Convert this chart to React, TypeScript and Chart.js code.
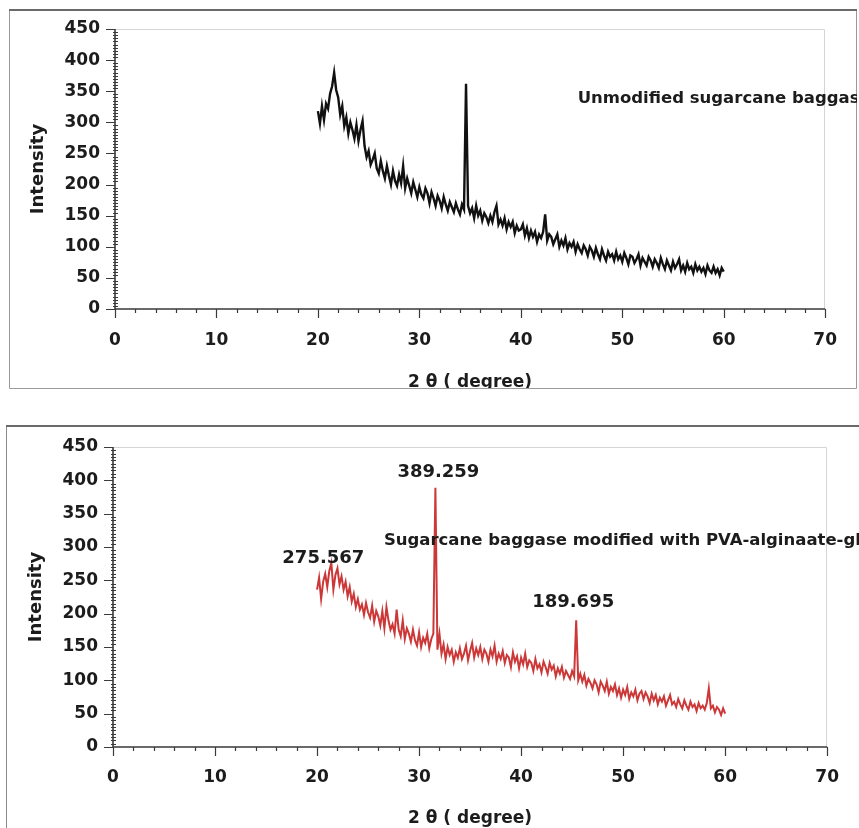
import { useEffect, useRef } from "react";
import { Chart, registerables } from "chart.js";

Chart.register(...registerables);

// ---------- data ----------
// 2θ sampling grid (degrees), 20.0 → 60.0 in 0.2° steps
const ANGLES: number[] = Array.from({ length: 201 }, (_, i) => Math.round((20 + i * 0.2) * 10) / 10);

// Unmodified sugarcane baggase intensity, one row per degree
const UNMODIFIED: number[] = [
  318, 298, 326, 304, 330, // 20
  322, 346, 358, 380, 352, // 21
  340, 312, 326, 294, 308, // 22
  282, 300, 288, 274, 296, // 23
  270, 288, 302, 262, 244, // 24
  254, 232, 240, 250, 226, // 25
  218, 238, 222, 210, 230, // 26
  214, 200, 222, 206, 198, // 27
  216, 202, 230, 194, 210, // 28
  198, 186, 204, 192, 180, // 29
  196, 184, 178, 194, 186, // 30
  170, 188, 178, 166, 182, // 31
  174, 162, 180, 168, 158, // 32
  172, 164, 156, 170, 160, // 33
  152, 168, 160, 362, 166, // 34
  154, 162, 146, 166, 150, // 35
  158, 142, 154, 148, 138, // 36
  150, 140, 156, 166, 136, // 37
  144, 134, 146, 128, 140, // 38
  132, 140, 122, 134, 126, // 39
  128, 136, 118, 130, 114, // 40
  126, 116, 124, 108, 120, // 41
  114, 124, 152, 110, 120, // 42
  116, 104, 112, 120, 100, // 43
  110, 102, 114, 96, 106, // 44
  100, 108, 92, 104, 96, // 45
  90, 102, 96, 86, 100, // 46
  94, 84, 98, 88, 80, // 47
  96, 86, 78, 92, 84, // 48
  88, 78, 92, 80, 86, // 49
  76, 90, 82, 72, 86, // 50
  84, 74, 80, 88, 70, // 51
  82, 76, 70, 84, 78, // 52
  68, 80, 74, 66, 82, // 53
  72, 64, 78, 70, 62, // 54
  76, 66, 72, 80, 62, // 55
  70, 60, 74, 64, 68, // 56
  58, 72, 62, 68, 60, // 57
  66, 56, 70, 62, 58, // 58
  68, 58, 64, 54, 66, // 59
  60, // 60
];

// Sugarcane baggase modified with PVA-alginate intensity
const MODIFIED: number[] = [
  236, 254, 222, 248, 260, // 20
  240, 264, 276, 236, 258, // 21
  268, 244, 256, 236, 248, // 22
  226, 240, 218, 230, 210, // 23
  222, 206, 214, 198, 216, // 24
  202, 194, 212, 188, 204, // 25
  196, 182, 204, 178, 210, // 26
  190, 176, 184, 170, 206, // 27
  176, 166, 190, 162, 178, // 28
  170, 158, 176, 160, 152, // 29
  172, 150, 164, 156, 170, // 30
  148, 162, 170, 389, 146, // 31
  170, 140, 154, 132, 150, // 32
  138, 146, 128, 142, 134, // 33
  148, 132, 140, 152, 130, // 34
  144, 156, 134, 148, 138, // 35
  150, 132, 146, 140, 128, // 36
  146, 136, 152, 128, 140, // 37
  132, 144, 126, 138, 134, // 38
  120, 142, 128, 136, 118, // 39
  134, 124, 140, 120, 130, // 40
  126, 114, 132, 118, 124, // 41
  112, 128, 120, 110, 126, // 42
  116, 122, 106, 118, 110, // 43
  120, 104, 114, 108, 102, // 44
  114, 106, 190, 100, 110, // 45
  98, 108, 92, 102, 96, // 46
  88, 100, 94, 82, 98, // 47
  92, 84, 98, 80, 90, // 48
  84, 94, 78, 88, 74, // 49
  86, 78, 90, 72, 82, // 50
  76, 86, 70, 80, 84, // 51
  72, 82, 76, 66, 80, // 52
  70, 78, 64, 74, 68, // 53
  76, 62, 70, 78, 64, // 54
  68, 60, 72, 64, 58, // 55
  70, 62, 56, 68, 60, // 56
  64, 54, 66, 58, 62, // 57
  56, 66, 88, 58, 62, // 58
  52, 60, 56, 48, 58, // 59
  50, // 60
];

const MODIFIED_PEAKS_X: number[] = [21.4, 31.6, 45.4];
const MODIFIED_PEAKS_Y: number[] = [275.567, 389.259, 189.695];

const X_MIN = 0, X_MAX = 70, X_STEP = 10, X_MINOR = 2;
const Y_MIN = 0, Y_MAX = 450, Y_STEP = 50, Y_MINOR = 5;

const X_TITLE = "2 θ ( degree)";
const Y_TITLE = "Intensity";
const TOP_NOTE = "Unmodified sugarcane baggas";
const BOTTOM_NOTE = "Sugarcane baggase modified with PVA-alginaate-gl";

// ---------- styling ----------
const FONT = '"DejaVu Sans", "Open Sans", sans-serif';
const TEXT = "#1c1c1c";

type Spec = {
  values: number[];
  color: string;
  lineWidth: number;
  padTop: number;
  padRight: number;
  yWidth: number;
  xHeight: number;
  xTickPad: number;
  xTitlePad: number;
  yTitlePad: number;
  note: { text: string; x: number; y: number; clipRight: number };
  peaks: { x: number; y: number; dx: number; dy: number }[];
  frame: (ctx: CanvasRenderingContext2D, w: number, h: number) => void;
};

function decorPlugin(spec: Spec) {
  return {
    id: "decor",
    beforeDraw(chart: any) {
      const { ctx, width, height } = chart;
      ctx.save();
      ctx.fillStyle = "#ffffff";
      ctx.fillRect(0, 0, width, height);
      ctx.restore();
    },
    afterDraw(chart: any) {
      const { ctx, chartArea: a, width, height } = chart;
      const xs = chart.scales.x;
      const ys = chart.scales.y;
      ctx.save();

      spec.frame(ctx, width, height);

      // plot-area border (light)
      ctx.strokeStyle = "#d4d4d4";
      ctx.lineWidth = 1;
      ctx.beginPath();
      ctx.moveTo(a.left, Math.round(a.top) + 0.5);
      ctx.lineTo(Math.round(a.right) - 0.5, Math.round(a.top) + 0.5);
      ctx.lineTo(Math.round(a.right) - 0.5, a.bottom);
      ctx.stroke();

      // axes
      const x0 = Math.round(a.left);
      const y0 = Math.round(a.bottom);
      ctx.strokeStyle = "#3a3a3a";
      ctx.lineWidth = 1.6;
      ctx.beginPath();
      ctx.moveTo(x0, a.top);
      ctx.lineTo(x0, y0);
      ctx.lineTo(a.right, y0);
      ctx.stroke();

      // y ticks
      ctx.lineWidth = 1.2;
      ctx.beginPath();
      for (let v = Y_MIN; v <= Y_MAX; v += Y_MINOR) {
        const py = Math.round(ys.getPixelForValue(v)) + 0.5;
        if (v % Y_STEP === 0) {
          ctx.moveTo(x0 - 9, py);
          ctx.lineTo(x0, py);
        } else {
          ctx.moveTo(x0 - 2, py);
          ctx.lineTo(x0 + 3, py);
        }
      }
      ctx.stroke();

      // x ticks
      ctx.beginPath();
      for (let v = X_MIN; v <= X_MAX; v += X_MINOR) {
        const px = Math.round(xs.getPixelForValue(v)) + 0.5;
        const len = v % X_STEP === 0 ? 9 : 4;
        ctx.moveTo(px, y0);
        ctx.lineTo(px, y0 + len);
      }
      ctx.stroke();

      // note text
      ctx.save();
      ctx.beginPath();
      ctx.rect(0, 0, spec.note.clipRight, height);
      ctx.clip();
      ctx.fillStyle = TEXT;
      ctx.font = `bold 16.5px ${FONT}`;
      ctx.textAlign = "left";
      ctx.textBaseline = "middle";
      ctx.fillText(spec.note.text, xs.getPixelForValue(spec.note.x), ys.getPixelForValue(spec.note.y));
      ctx.restore();

      // peak labels
      ctx.fillStyle = TEXT;
      ctx.font = `bold 18px ${FONT}`;
      ctx.textAlign = "center";
      ctx.textBaseline = "middle";
      for (const p of spec.peaks) {
        ctx.fillText(p.y.toFixed(3), xs.getPixelForValue(p.x) + p.dx, ys.getPixelForValue(p.y) + p.dy);
      }

      ctx.restore();
    },
  };
}

function buildConfig(spec: Spec): any {
  const tickFont = { family: FONT, size: 17, weight: "bold" as const };
  return {
    type: "line",
    data: {
      datasets: [
        {
          data: ANGLES.map((x, i) => ({ x, y: spec.values[i] })),
          borderColor: spec.color,
          borderWidth: spec.lineWidth,
          pointRadius: 0,
          tension: 0,
          fill: false,
        },
      ],
    },
    options: {
      animation: false,
      responsive: false,
      devicePixelRatio: 1,
      events: [],
      layout: { padding: { left: 0, right: spec.padRight, top: spec.padTop, bottom: 0 } },
      plugins: { legend: { display: false }, tooltip: { enabled: false }, title: { display: false } },
      scales: {
        x: {
          type: "linear",
          min: X_MIN,
          max: X_MAX,
          ticks: { stepSize: X_STEP, color: TEXT, font: tickFont, padding: spec.xTickPad, maxRotation: 0, autoSkip: false },
          grid: { display: false, drawTicks: false },
          border: { display: false },
          title: {
            display: true,
            text: X_TITLE,
            color: TEXT,
            font: { family: FONT, size: 17, weight: "bold", lineHeight: 1 },
            padding: { top: 0, bottom: spec.xTitlePad },
          },
          afterFit: (s: any) => {
            s.height = spec.xHeight;
          },
        },
        y: {
          type: "linear",
          min: Y_MIN,
          max: Y_MAX,
          ticks: { stepSize: Y_STEP, color: TEXT, font: tickFont, padding: 15 },
          grid: { display: false, drawTicks: false },
          border: { display: false },
          title: {
            display: true,
            text: Y_TITLE,
            color: TEXT,
            font: { family: FONT, size: 18, weight: "bold", lineHeight: 1 },
            padding: { top: spec.yTitlePad, bottom: 0 },
          },
          afterFit: (s: any) => {
            s.width = spec.yWidth;
          },
        },
      },
    },
    plugins: [decorPlugin(spec)],
  };
}

const TOP_W = 858, TOP_H = 389;
const BOT_W = 859, BOT_H = 408, BOT_TOP = 420;

const TOP_SPEC: Spec = {
  values: UNMODIFIED,
  color: "#111111",
  lineWidth: 2.4,
  padTop: 29,
  padRight: TOP_W - 827,
  yWidth: 115,
  xHeight: TOP_H - 309,
  xTickPad: 21,
  xTitlePad: -2,
  yTitlePad: 29,
  note: { text: TOP_NOTE, x: 45.6, y: 338, clipRight: 857 },
  peaks: [],
  frame: (ctx, w, h) => {
    ctx.strokeStyle = "#9a9a9a";
    ctx.lineWidth = 1;
    ctx.beginPath();
    ctx.moveTo(9.5, 10);
    ctx.lineTo(9.5, h - 0.5);
    ctx.lineTo(w - 1.5, h - 0.5);
    ctx.lineTo(w - 1.5, 10);
    ctx.stroke();
    ctx.strokeStyle = "#6a6a6a";
    ctx.lineWidth = 2;
    ctx.beginPath();
    ctx.moveTo(9, 10);
    ctx.lineTo(w - 1, 10);
    ctx.stroke();
  },
};

const BOT_SPEC: Spec = {
  values: MODIFIED,
  color: "#cc3838",
  lineWidth: 2,
  padTop: 447 - BOT_TOP,
  padRight: BOT_W - 830,
  yWidth: 113,
  xHeight: BOT_H - (747 - BOT_TOP),
  xTickPad: 20,
  xTitlePad: 0.5,
  yTitlePad: 27,
  note: { text: BOTTOM_NOTE, x: 26.55, y: 310, clipRight: BOT_W },
  peaks: MODIFIED_PEAKS_X.map((x, i) => ({
    x,
    y: MODIFIED_PEAKS_Y[i],
    dx: [-8, 3, -3][i],
    dy: [-5, -15, -18][i],
  })),
  frame: (ctx, w, h) => {
    ctx.strokeStyle = "#8a8a8a";
    ctx.lineWidth = 1;
    ctx.beginPath();
    ctx.moveTo(6.5, 6);
    ctx.lineTo(6.5, h);
    ctx.stroke();
    ctx.strokeStyle = "#6a6a6a";
    ctx.lineWidth = 2;
    ctx.beginPath();
    ctx.moveTo(6, 6);
    ctx.lineTo(w, 6);
    ctx.stroke();
  },
};

export default function App() {
  const topRef = useRef<HTMLCanvasElement>(null);
  const botRef = useRef<HTMLCanvasElement>(null);

  useEffect(() => {
    const c1 = new Chart(topRef.current as HTMLCanvasElement, buildConfig(TOP_SPEC));
    const c2 = new Chart(botRef.current as HTMLCanvasElement, buildConfig(BOT_SPEC));
    return () => {
      c1.destroy();
      c2.destroy();
    };
  }, []);

  return (
    <div style={{ position: "absolute", left: 0, top: 0, width: 859, height: 828, background: "#ffffff", overflow: "hidden" }}>
      <canvas
        ref={topRef}
        width={TOP_W}
        height={TOP_H}
        style={{ position: "absolute", left: 0, top: 0, width: TOP_W, height: TOP_H }}
      />
      <canvas
        ref={botRef}
        width={BOT_W}
        height={BOT_H}
        style={{ position: "absolute", left: 0, top: BOT_TOP, width: BOT_W, height: BOT_H }}
      />
    </div>
  );
}
